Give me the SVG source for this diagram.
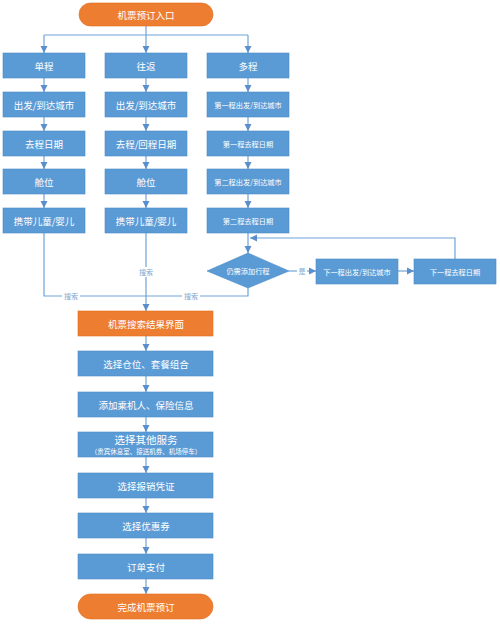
<svg xmlns="http://www.w3.org/2000/svg" width="500" height="625" viewBox="0 0 500 625">
<style>
.b{fill:#5b9bd5;stroke:#4a8ac6;stroke-width:0.6}
.o{fill:#ed7d31;stroke:#e07020;stroke-width:0.6}
.t{fill:#fff;font-family:"Noto Sans CJK SC","Noto Sans",sans-serif;font-size:9.5px;text-anchor:middle;dominant-baseline:central}
.s{font-size:7.2px}
.xs{font-size:6.5px}
.big{font-size:10.5px}
.c{fill:none;stroke:#6fa3d8;stroke-width:1.2}
.l{fill:#7fa6cf;font-family:"Noto Sans CJK SC","Noto Sans",sans-serif;font-size:7px;text-anchor:middle;dominant-baseline:central}
.lb{fill:#fff}
</style>
<defs>
<marker id="a" markerWidth="8" markerHeight="8" refX="7" refY="4" orient="auto" markerUnits="userSpaceOnUse">
<path d="M0,0.5 L7,4 L0,7.5 Z" fill="#5b8fcc"/>
</marker>
</defs>
<rect width="500" height="625" fill="#fff"/>
<g id="connectors">
<path class="c" d="M146,26 V35"/>
<path class="c" d="M44,35 H248"/>
<path class="c" d="M44,35 V53" marker-end="url(#a)"/>
<path class="c" d="M146,35 V53" marker-end="url(#a)"/>
<path class="c" d="M248,35 V53" marker-end="url(#a)"/>
<path class="c" d="M44,78 V92" marker-end="url(#a)"/>
<path class="c" d="M44,117 V131" marker-end="url(#a)"/>
<path class="c" d="M44,156 V169" marker-end="url(#a)"/>
<path class="c" d="M44,194 V208" marker-end="url(#a)"/>
<path class="c" d="M146,78 V92" marker-end="url(#a)"/>
<path class="c" d="M146,117 V131" marker-end="url(#a)"/>
<path class="c" d="M146,156 V169" marker-end="url(#a)"/>
<path class="c" d="M146,194 V208" marker-end="url(#a)"/>
<path class="c" d="M248,78 V92" marker-end="url(#a)"/>
<path class="c" d="M248,117 V131" marker-end="url(#a)"/>
<path class="c" d="M248,156 V169" marker-end="url(#a)"/>
<path class="c" d="M248,194 V208" marker-end="url(#a)"/>
<path class="c" d="M248,233 V253" marker-end="url(#a)"/>
<path class="c" d="M455,259 V238 H250" marker-end="url(#a)"/>
<path class="c" d="M289,271 H316" marker-end="url(#a)"/>
<path class="c" d="M398,271 H414" marker-end="url(#a)"/>
<path class="c" d="M44,233 V296 H146"/>
<path class="c" d="M248,288 V296 H146"/>
<path class="c" d="M146,233 V311" marker-end="url(#a)"/>
<path class="c" d="M146,336 V351" marker-end="url(#a)"/>
<path class="c" d="M146,376 V392" marker-end="url(#a)"/>
<path class="c" d="M146,417 V432" marker-end="url(#a)"/>
<path class="c" d="M146,457 V473" marker-end="url(#a)"/>
<path class="c" d="M146,498 V513" marker-end="url(#a)"/>
<path class="c" d="M146,538 V554" marker-end="url(#a)"/>
<path class="c" d="M146,579 V594" marker-end="url(#a)"/>
<rect class="lb" x="62" y="291" width="18" height="10"/>
<text class="l" x="71" y="296">搜索</text>
<rect class="lb" x="182" y="291" width="18" height="10"/>
<text class="l" x="191" y="296">搜索</text>
<rect class="lb" x="137" y="267" width="18" height="10"/>
<text class="l" x="146" y="272">搜索</text>
<rect class="lb" x="297" y="266" width="10" height="10"/>
<text class="l" x="302" y="271">是</text>
</g>
<g id="start"><rect class="o" x="79" y="3" width="134" height="23" rx="11.5"/><text class="t" x="146" y="14.5">机票预订入口</text></g>
<g id="n-dan"><rect class="b" x="3" y="53" width="82" height="25"/><text class="t" x="44" y="65.5">单程</text></g>
<g id="n-dan2"><rect class="b" x="3" y="92" width="82" height="25"/><text class="t" x="44" y="104.5">出发/到达城市</text></g>
<g id="n-dan3"><rect class="b" x="3" y="131" width="82" height="25"/><text class="t" x="44" y="143.5">去程日期</text></g>
<g id="n-dan4"><rect class="b" x="3" y="169" width="82" height="25"/><text class="t" x="44" y="181.5">舱位</text></g>
<g id="n-dan5"><rect class="b" x="3" y="208" width="82" height="25"/><text class="t" x="44" y="220.5">携带儿童/婴儿</text></g>
<g id="n-wf"><rect class="b" x="105" y="53" width="82" height="25"/><text class="t" x="146" y="65.5">往返</text></g>
<g id="n-wf2"><rect class="b" x="105" y="92" width="82" height="25"/><text class="t" x="146" y="104.5">出发/到达城市</text></g>
<g id="n-wf3"><rect class="b" x="105" y="131" width="82" height="25"/><text class="t" x="146" y="143.5">去程/回程日期</text></g>
<g id="n-wf4"><rect class="b" x="105" y="169" width="82" height="25"/><text class="t" x="146" y="181.5">舱位</text></g>
<g id="n-wf5"><rect class="b" x="105" y="208" width="82" height="25"/><text class="t" x="146" y="220.5">携带儿童/婴儿</text></g>
<g id="n-dc"><rect class="b" x="207" y="53" width="82" height="25"/><text class="t" x="248" y="65.5">多程</text></g>
<g id="n-dc2"><rect class="b" x="207" y="92" width="82" height="25"/><text class="t s" x="248" y="104.5">第一程出发/到达城市</text></g>
<g id="n-dc3"><rect class="b" x="207" y="131" width="82" height="25"/><text class="t s" x="248" y="143.5">第一程去程日期</text></g>
<g id="n-dc4"><rect class="b" x="207" y="169" width="82" height="25"/><text class="t s" x="248" y="181.5">第二程出发/到达城市</text></g>
<g id="n-dc5"><rect class="b" x="207" y="208" width="82" height="25"/><text class="t s" x="248" y="220.5">第二程去程日期</text></g>
<g id="n-dia"><path class="b" d="M248,253 L289,271 L248,288 L207,271 Z"/><text class="t s" x="248" y="271">仍需添加行程</text></g>
<g id="n-next1"><rect class="b" x="316" y="259" width="82" height="25"/><text class="t s" x="357" y="271.5">下一程出发/到达城市</text></g>
<g id="n-next2"><rect class="b" x="414" y="259" width="82" height="25"/><text class="t s" x="455" y="271.5">下一程去程日期</text></g>
<g id="n-res"><rect class="o" x="78" y="311" width="135" height="25"/><text class="t" x="146" y="323.5">机票搜索结果界面</text></g>
<g id="n-s1"><rect class="b" x="78" y="351" width="135" height="25"/><text class="t" x="146" y="363.5">选择仓位、套餐组合</text></g>
<g id="n-s2"><rect class="b" x="78" y="392" width="135" height="25"/><text class="t" x="146" y="404.5">添加乘机人、保险信息</text></g>
<g id="n-s3"><rect class="b" x="78" y="432" width="135" height="25"/><text class="t big" x="146" y="439">选择其他服务</text><text class="t xs" x="146" y="451">（贵宾休息室、接送机券、机场停车）</text></g>
<g id="n-s4"><rect class="b" x="78" y="473" width="135" height="25"/><text class="t" x="146" y="485.5">选择报销凭证</text></g>
<g id="n-s5"><rect class="b" x="78" y="513" width="135" height="25"/><text class="t" x="146" y="525.5">选择优惠券</text></g>
<g id="n-s6"><rect class="b" x="78" y="554" width="135" height="25"/><text class="t" x="146" y="566.5">订单支付</text></g>
<g id="end"><rect class="o" x="78" y="594" width="135" height="25" rx="12.5"/><text class="t" x="146" y="606.5">完成机票预订</text></g>
</svg>
